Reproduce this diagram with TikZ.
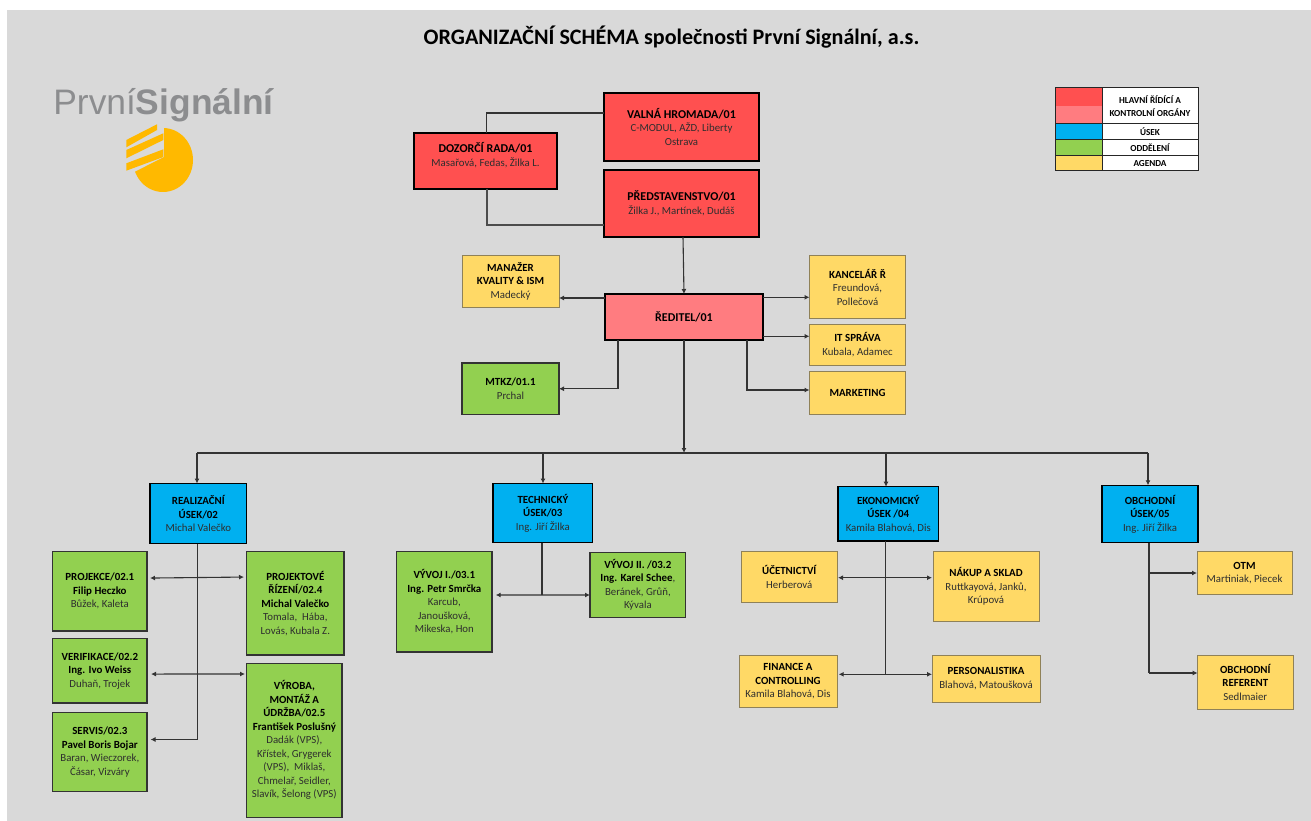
\documentclass[tikz,border=0pt]{standalone}
\usepackage{fontspec}
\setmainfont{Carlito}
\newfontfamily\logofont{Liberation Sans}
\usetikzlibrary{arrows.meta}
\definecolor{bgc}{HTML}{D9D9D9}
\definecolor{cred}{HTML}{FF5050}
\definecolor{cpink}{HTML}{FF7C80}
\definecolor{cblue}{HTML}{00B0F0}
\definecolor{cgreen}{HTML}{92D050}
\definecolor{cyel}{HTML}{FFD966}
\definecolor{cname}{HTML}{2E2E2E}
\definecolor{logog}{HTML}{8C8D8F}
\definecolor{logoy}{HTML}{FFB900}
\newcommand{\tA}[1]{{\fontsize{12}{13.5}\selectfont\bfseries #1}}
\newcommand{\tB}[1]{{\fontsize{10.9}{13.5}\selectfont\bfseries #1}}
\newcommand{\nm}[1]{{\fontsize{10.8}{13.5}\selectfont\color{cname} #1}}
\newcommand{\bx}[6]{%
  \pgfmathsetmacro{\bxw}{#4-#2}%
  \pgfmathsetmacro{\bxh}{#5-#3}%
  \pgfmathsetmacro{\bxx}{(#2+#4)/2}%
  \pgfmathsetmacro{\bxy}{(#3+#5)/2}%
  \node[#6,minimum width=\bxw pt,minimum height=\bxh pt] (#1) at (\bxx,\bxy)}
\tikzset{
  org/.style={rectangle,outer sep=0pt,inner sep=0pt,align=center,font=\fontsize{10.8}{13.5}\selectfont},
  redbox/.style={org,fill=cred,draw=black,line width=2.2pt},
  pinkbox/.style={org,fill=cpink,draw=black,line width=2.2pt},
  bluebox/.style={org,fill=cblue,draw=black,line width=1.2pt},
  greenbox/.style={org,fill=cgreen,draw=black!80,line width=1.1pt},
  yelbox/.style={org,fill=cyel,draw=black!40!cyel!60!gray,line width=1pt},
  legc/.style={org,draw=none},
  legt/.style={org,fill=white,draw=black!85,line width=1pt,font=\fontsize{9.2}{13.5}\selectfont\bfseries},
  wire/.style={draw=black!80,line width=1.1pt},
  arr/.style={wire,-{Latex[length=5pt,width=5pt]}},
  dbl/.style={wire,{Latex[length=5pt,width=5pt]}-{Latex[length=5pt,width=5pt]}}
}
\begin{document}
\begin{tikzpicture}[x=1pt,y=-1pt]
\useasboundingbox (0,0) rectangle (1311,821);
\fill[white] (0,0) rectangle (1311,821);
\fill[bgc] (7,10) rectangle (1311,821);
\node[font=\fontsize{22.1}{24}\selectfont\bfseries,anchor=center] (title) at (671.5,37) {ORGANIZAČNÍ SCHÉMA společnosti První Signální, a.s.};
% logo
\node[anchor=center,text=logog,font=\logofont\fontsize{35.4}{40}\selectfont,inner sep=0pt] (logo) at (164,105) {První\textbf{Signální}};
\fill[logoy] (126.3,140) -- (157,124.3) -- (157,130) -- (126.3,147.3) -- cycle;
\fill[logoy] (126.3,150) -- (163.3,133.3) -- (163.3,140) -- (126.3,158.3) -- cycle;
\fill[logoy] (126.3,163.3) -- (163.3,149.3) -- (163.3,157) -- (126.3,170.7) -- cycle;
\begin{scope}
\clip (164,120) -- (200,120) -- (200,192) -- (120,192) -- (120,179.3) -- (164,157) -- cycle;
\fill[logoy] (163,160) circle[x radius=30,y radius=32];
\end{scope}
% legend
\bx{lg1}{1055}{88}{1102}{106}{legc,fill=cred}{};
\bx{lg2}{1055}{106}{1102}{124}{legc,fill=cpink}{};
\bx{lg3}{1055}{124}{1102}{140}{legc,fill=cblue}{};
\bx{lg4}{1055}{140}{1102}{156}{legc,fill=cgreen}{};
\bx{lg5}{1055}{156}{1102}{171}{legc,fill=cyel}{};
\bx{lt1}{1102}{88}{1198}{124}{legt}{HLAVNÍ ŘÍDÍCÍ A\\KONTROLNÍ ORGÁNY};
\bx{lt2}{1102}{124}{1198}{140}{legt}{ÚSEK};
\bx{lt3}{1102}{140}{1198}{156}{legt}{ODDĚLENÍ};
\bx{lt4}{1102}{156}{1198}{171}{legt}{AGENDA};
\draw[black!85,line width=1pt] (lg1.north west) rectangle (lg5.south east);
\draw[black!85,line width=1pt] (lg3.north west) -- (lg3.north east) (lg4.north west) -- (lg4.north east) (lg5.north west) -- (lg5.north east);
% top
\bx{val}{604}{93}{759}{161}{redbox}{\tA{VALNÁ HROMADA/01}\\\nm{C-MODUL, AŽD, Liberty}\\\nm{Ostrava}};
\bx{pred}{604}{170}{759}{237}{redbox}{\tA{PŘEDSTAVENSTVO/01}\\\nm{Žilka J., Martínek, Dudáš}};
\bx{doz}{414}{133}{557}{189}{redbox}{\tA{DOZORČÍ RADA/01}\\\nm{Masařová, Fedas, Žilka L.}\\~};
\bx{red}{605}{294}{763}{340}{pinkbox}{\tA{ŘEDITEL/01}};
\bx{man}{462}{255}{559}{307}{yelbox}{\tB{MANAŽER}\\\tB{KVALITY \& ISM}\\\nm{Madecký}};
\bx{kan}{809.5}{255.5}{905.5}{318.5}{yelbox}{\tB{KANCELÁŘ Ř}\\\nm{Freundová,}\\\nm{Pollečová}};
\bx{its}{809.5}{324}{905.5}{365}{yelbox}{\tB{IT SPRÁVA}\\\nm{Kubala, Adamec}};
\bx{mar}{809.5}{371}{905.5}{414}{yelbox}{\tB{MARKETING}};
\bx{mtk}{462}{363}{559}{414.5}{greenbox}{\tB{MTKZ/01.1}\\\nm{Prchal}};
% sections
\bx{real}{150}{483.5}{246.7}{543.7}{bluebox}{\tB{REALIZAČNÍ}\\\tB{ÚSEK/02}\\\nm{Michal Valečko}};
\bx{tech}{493}{483.5}{592.7}{542.7}{bluebox}{\tB{TECHNICKÝ}\\\tB{ÚSEK/03}\\\nm{Ing. Jiří Žilka}};
\bx{eko}{838}{486.7}{938.6}{541}{bluebox}{\tB{EKONOMICKÝ}\\\tB{ÚSEK /04}\\\nm{Kamila Blahová, Dis}};
\bx{obc}{1102}{485.3}{1198}{542.7}{bluebox}{\tB{OBCHODNÍ}\\\tB{ÚSEK/05}\\\nm{Ing. Jiří Žilka}};
% realizacni
\bx{pro}{52.7}{551.7}{147}{631}{greenbox}{\tB{PROJEKCE/02.1}\\\tB{Filip Heczko}\\\nm{Bůžek, Kaleta}};
\bx{rid}{246.7}{551.7}{344}{655}{greenbox}{\tB{PROJEKTOVÉ}\\\tB{ŘÍZENÍ/02.4}\\\tB{Michal Valečko}\\\nm{Tomala,\ \ Hába,}\\\nm{Lovás, Kubala Z.}};
\bx{ver}{52.7}{638.7}{147}{703}{greenbox}{\tB{VERIFIKACE/02.2}\\\tB{Ing. Ivo Weiss}\\\nm{Duhaň, Trojek}};
\bx{ser}{52.7}{712.3}{147}{791.7}{greenbox}{\tB{SERVIS/02.3}\\\tB{Pavel Boris Bojar}\\\nm{Baran, Wieczorek,}\\\nm{Čásar, Vizváry}};
\bx{vyr}{246.7}{663.3}{342}{817.3}{greenbox}{\tB{VÝROBA,}\\\tB{MONTÁŽ A}\\\tB{ÚDRŽBA/02.5}\\\tB{František Poslušný}\\\nm{Dadák (VPS),}\\\nm{Křístek, Grygerek}\\\nm{(VPS),\ \ Miklaš,}\\\nm{Chmelař, Seidler,}\\\nm{Slavík, Šelong (VPS)}};
% technicky
\bx{vv1}{396.7}{551.7}{492}{652}{greenbox}{\tB{VÝVOJ I./03.1}\\\tB{Ing. Petr Smrčka}\\\nm{Karcub,}\\\nm{Janoušková,}\\\nm{Mikeska, Hon}};
\bx{vv2}{590}{552.7}{685.7}{617.3}{greenbox}{\tB{VÝVOJ II. /03.2}\\\tB{Ing. Karel Schee}\nm{,}\\\nm{Beránek, Grůň,}\\\nm{Kývala}};
% ekonomicky
\bx{uce}{741.5}{551.7}{837}{602}{yelbox}{\tB{ÚČETNICTVÍ}\\\nm{Herberová}};
\bx{nak}{933}{551.7}{1039}{621}{yelbox}{\tB{NÁKUP A SKLAD}\\\nm{Ruttkayová, Janků,}\\\nm{Krúpová}};
\bx{fin}{739}{655.3}{837}{707.7}{yelbox}{\tB{FINANCE A}\\\tB{CONTROLLING}\\\nm{Kamila Blahová, Dis}};
\bx{per}{932}{655.3}{1040}{702.3}{yelbox}{\tB{PERSONALISTIKA}\\\nm{Blahová, Matoušková}};
% obchodni
\bx{otm}{1197}{551.7}{1292}{594.3}{yelbox}{\tB{OTM}\\\nm{Martiniak, Piecek}};
\bx{ref}{1197.6}{655.3}{1293}{709}{yelbox}{\tB{OBCHODNÍ}\\\tB{REFERENT}\\\nm{Sedlmaier}};
% connectors
\coordinate (b1) at (197,453);
\coordinate (b2) at (543,453);
\coordinate (b3) at (886,453);
\coordinate (b4) at (1148,453);
\coordinate (b0) at (684,453);
\draw[wire] ([xshift=1pt]doz.north) |- ([yshift=14pt]val.west);
\draw[wire,draw=black!70] ([xshift=1.5pt]doz.south) |- ([yshift=-21.5pt]pred.west);
\draw[arr] ([xshift=1.5pt]pred.south) -- (red.north);
\draw[arr] ([yshift=19pt]red.west) -- ([yshift=-17pt]man.east);
\draw[arr] ([yshift=19.7pt]red.east) -- ([yshift=-10.3pt]kan.west);
\draw[arr] ([yshift=-19.3pt]red.east) -- ([yshift=8.2pt]its.west);
\draw[arr] ([xshift=63pt]red.south) |- ([yshift=2.5pt]mar.west);
\draw[arr] ([xshift=-66pt]red.south) |- (mtk.east);
\draw[arr] (red.south) -- (b0);
\draw[wire] (b1) -- (b4);
\draw[arr] (b1) -- (b1 |- real.north);
\draw[arr] (b2) -- (b2 |- tech.north);
\draw[arr] (b3) -- (b3 |- eko.north);
\draw[arr] (b4) -- (b4 |- obc.north);
\draw[arr] ([xshift=-.7pt]real.south) |- ([shift={(3.5pt,12.5pt)}]ser.east);
\draw[dbl] ([shift={(3pt,13.3pt)}]pro.east) -- ([shift={(-2.7pt,26.3pt)}]rid.west);
\draw[dbl] ([shift={(4pt,-3.2pt)}]ver.east) -- ([shift={(-1.7pt,66.3pt)}]vyr.west);
\coordinate (t3) at (542,595);
\draw[wire] (tech.south -| t3) -- (t3);
\draw[dbl] ([shift={(3.7pt,6.85pt)}]vv1.east) -- ([yshift=-10pt]vv2.west);
\coordinate (e4) at (885.5,674.3);
\draw[wire] (eko.south -| e4) -- (e4);
\draw[dbl] ([shift={(1pt,-.85pt)}]uce.east) -- ([shift={(-1pt,8.65pt)}]nak.west);
\draw[dbl] ([shift={(1.7pt,7.2pt)}]fin.east) -- ([yshift=4.5pt]per.west);
\coordinate (o5) at (1149,673);
\draw[wire] (obc.south -| o5) -- (o5);
\draw[arr] (o5 |- otm.west) -- (otm.west);
\draw[arr] (o5) -- (ref.west |- o5);
\end{tikzpicture}
\end{document}
